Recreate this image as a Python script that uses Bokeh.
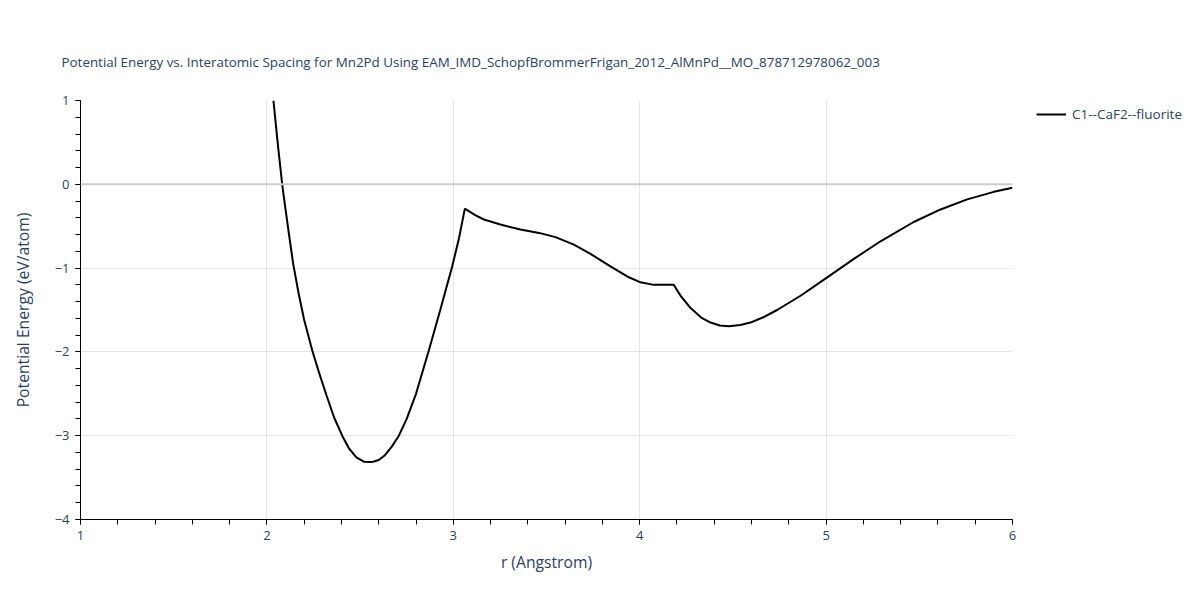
from bokeh.plotting import figure
from bokeh.models import Span, Legend, LegendItem, FixedTicker, Title
from bokeh.embed import file_html
from bokeh.resources import INLINE

title = "Potential Energy vs. Interatomic Spacing for Mn2Pd Using EAM_IMD_SchopfBrommerFrigan_2012_AlMnPd__MO_878712978062_003"
series_name = "C1--CaF2--fluorite"

r = [2.035, 2.06, 2.082, 2.10, 2.12, 2.141, 2.17, 2.20, 2.243, 2.28, 2.32, 2.36, 2.404,
     2.44, 2.48, 2.52, 2.55, 2.57, 2.60, 2.63, 2.67, 2.708, 2.75, 2.80, 2.869, 2.93,
     2.994, 3.03, 3.062, 3.12, 3.164, 3.253, 3.36, 3.46, 3.548, 3.647, 3.736, 3.843,
     3.933, 4.004, 4.076, 4.183, 4.219, 4.27, 4.33, 4.38, 4.43, 4.478, 4.54, 4.594,
     4.66, 4.737, 4.863, 5.006, 5.149, 5.292, 5.47, 5.614, 5.757, 5.9, 6.0]
energy = [1.0, 0.45, 0.0, -0.30, -0.62, -0.95, -1.30, -1.62, -1.98, -2.25, -2.52, -2.78, -3.00,
          -3.15, -3.26, -3.31, -3.315, -3.31, -3.29, -3.24, -3.13, -3.00, -2.80, -2.50, -1.98, -1.50,
          -0.98, -0.65, -0.29, -0.37, -0.42, -0.48, -0.54, -0.58, -0.63, -0.72, -0.83, -0.98,
          -1.10, -1.17, -1.20, -1.20, -1.33, -1.47, -1.59, -1.65, -1.685, -1.695, -1.68, -1.65,
          -1.59, -1.50, -1.33, -1.11, -0.89, -0.68, -0.45, -0.30, -0.18, -0.09, -0.04]

x_ticks = [1, 2, 3, 4, 5, 6]
y_ticks = [-4, -3, -2, -1, 0, 1]

TEXT = "#2a3f5f"
FONT = "Open Sans"

p = figure(frame_width=932, frame_height=419, output_backend="svg", toolbar_location=None,
           x_range=(1, 6), y_range=(-4, 1),
           min_border_left=80, min_border_right=172, min_border_top=100, min_border_bottom=65)
p.title = None
p.outline_line_color = None
p.background_fill_color = "white"

t = Title(text=title, text_font=FONT, text_font_size="13.4px", text_color=TEXT,
          text_font_style="normal", offset=-19, standoff=59)
p.add_layout(t, "above")

p.xaxis.ticker = FixedTicker(ticks=x_ticks, minor_ticks=[1 + 0.2 * i for i in range(26)])
p.yaxis.ticker = FixedTicker(ticks=y_ticks, minor_ticks=[-4 + 0.2 * i for i in range(26)])
for ax in (p.xaxis[0], p.yaxis[0]):
    ax.axis_line_color = "black"
    ax.axis_line_width = 1
    ax.major_tick_line_color = "black"
    ax.minor_tick_line_color = "black"
    ax.major_tick_out = 5
    ax.major_tick_in = 0
    ax.minor_tick_out = 5
    ax.minor_tick_in = 0
    ax.major_label_text_font = FONT
    ax.major_label_text_font_size = "13px"
    ax.major_label_text_color = TEXT
    ax.axis_label_text_font = FONT
    ax.axis_label_text_font_size = "15.7px"
    ax.axis_label_text_color = TEXT
    ax.axis_label_text_font_style = "normal"
p.xaxis.axis_label = "r (Angstrom)"
p.yaxis.axis_label = "Potential Energy (eV/atom)"
p.xaxis.axis_label_standoff = 8
p.yaxis.axis_label_standoff = 18
p.xaxis.major_label_standoff = 6
p.yaxis.major_label_standoff = 6

p.xgrid.grid_line_color = "#e3e3e3"
p.ygrid.grid_line_color = "#e3e3e3"
p.xgrid.ticker = FixedTicker(ticks=x_ticks)
p.ygrid.ticker = FixedTicker(ticks=y_ticks)

p.add_layout(Span(location=0, dimension="width", line_color="#cccccc", line_width=2))

ln = p.line(r, energy, line_color="black", line_width=2)

legend = Legend(items=[LegendItem(label=series_name, renderers=[ln])],
                location=(24, 395), border_line_color=None, background_fill_alpha=0,
                label_text_font=FONT, label_text_font_size="13.5px", label_text_color=TEXT,
                glyph_width=30, margin=0, padding=4, label_standoff=6)
p.add_layout(legend, "right")

open("out.html", "w").write(file_html(p, INLINE))
